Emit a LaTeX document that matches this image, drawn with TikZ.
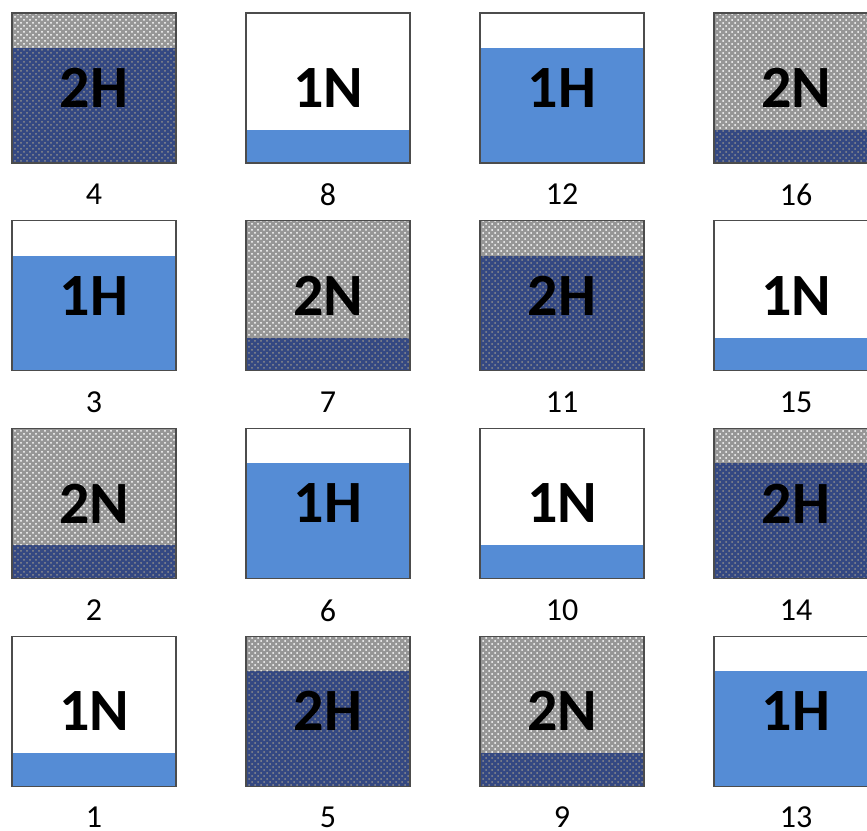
\documentclass[tikz,border=0pt]{standalone}
\usepackage{fontspec}
\newfontfamily\cellfont{Carlito}
\usepackage{xcolor}
\definecolor{cellblue}{RGB}{85, 140, 213}
\definecolor{cellnavy}{RGB}{52, 72, 130}
\definecolor{cellgrey}{RGB}{150, 150, 150}
\usepackage{tikz}
\usetikzlibrary{positioning, patterns}

\begin{document}
\begin{tikzpicture}[
  x=0.5pt, y=-0.5pt,
  cell/.style={rectangle, draw=black!70, line width=0.6pt, minimum width=82pt, minimum height=75pt, inner sep=0pt, font=\cellfont\bfseries\fontsize{30}{30}\selectfont},
  greychk/.style={fill=cellgrey, postaction={pattern=crosshatch dots, pattern color=white}},
  navychk/.style={fill=cellnavy, postaction={pattern=crosshatch dots, pattern color=black!45}},
  twoH/.style={cell, path picture={
    \fill[greychk] (path picture bounding box.north west) rectangle ([yshift=-17.5pt]path picture bounding box.north east);
    \fill[navychk] ([yshift=-17.5pt]path picture bounding box.north west) rectangle (path picture bounding box.south east);}},
  twoN/.style={cell, path picture={
    \fill[greychk] (path picture bounding box.north west) rectangle ([yshift=16.5pt]path picture bounding box.south east);
    \fill[navychk] ([yshift=16.5pt]path picture bounding box.south west) rectangle (path picture bounding box.south east);}},
  oneH/.style={cell, fill=white, path picture={
    \fill[cellblue] ([yshift=-17.5pt]path picture bounding box.north west) rectangle (path picture bounding box.south east);}},
  oneN/.style={cell, fill=white, path picture={
    \fill[cellblue] (path picture bounding box.south west) rectangle ([yshift=16.5pt]path picture bounding box.south east);}},
  numlabel/.style={inner sep=0pt, font=\cellfont\fontsize{16}{16}\selectfont}
]
  \clip (0,0) rectangle (867,830);
  \fill[white] (0,0) rectangle (867,830);

  % Cells, column by column
  \foreach \col/\row/\kind/\txt/\num in {
      0/0/twoH/2H/4, 0/1/oneH/1H/3, 0/2/twoN/2N/2, 0/3/oneN/1N/1,
      1/0/oneN/1N/8, 1/1/twoN/2N/7, 1/2/oneH/1H/6, 1/3/twoH/2H/5,
      2/0/oneH/1H/12, 2/1/twoH/2H/11, 2/2/oneN/1N/10, 2/3/twoN/2N/9,
      3/0/twoN/2N/16, 3/1/oneN/1N/15, 3/2/twoH/2H/14, 3/3/oneH/1H/13}{
    \node[\kind] (c\num) at ({94+234*\col},{88+207.7*\row}) {\txt};
    \node[numlabel, below=10pt of c\num] (n\num) {\num};
  }
\end{tikzpicture}
\end{document}
